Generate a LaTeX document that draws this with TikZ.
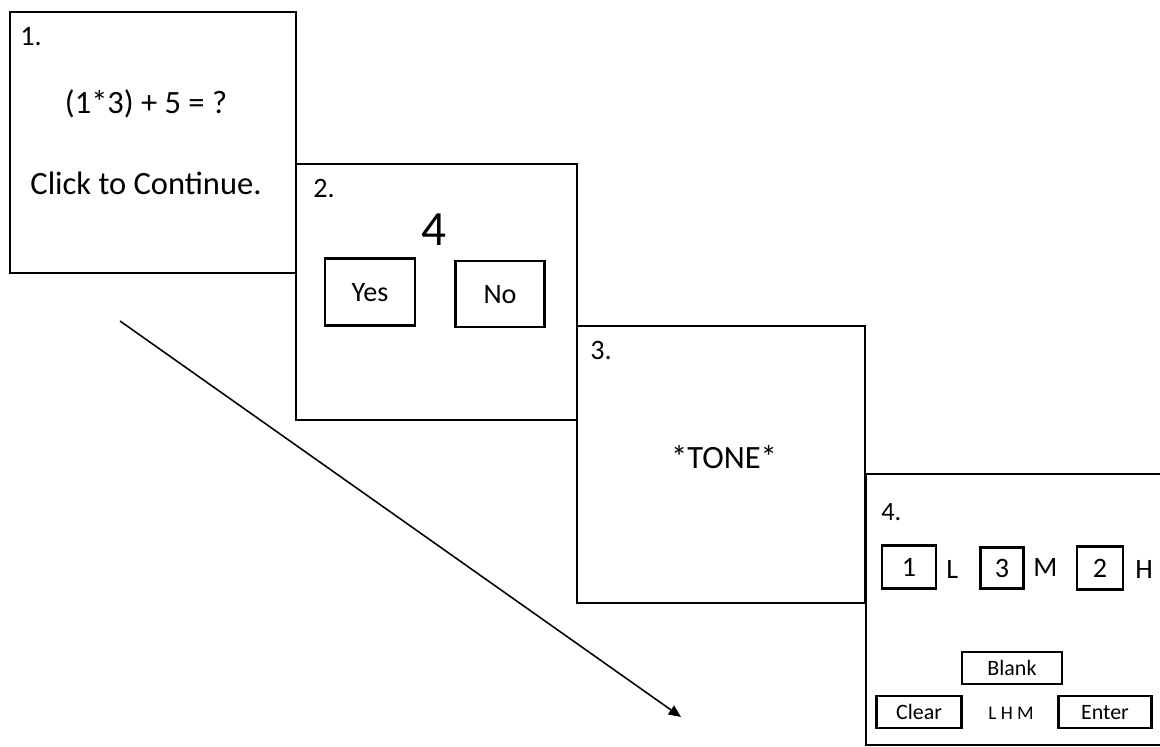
\documentclass[tikz,border=0pt]{standalone}
\usepackage{fontspec}
\setmainfont{Carlito}
\usetikzlibrary{arrows.meta, positioning, fit}

\begin{document}
\begin{tikzpicture}[
        x=0.02cm, y=-0.02cm,
        screen/.style={rectangle, draw, line width=1.6pt, fill=white, inner sep=0pt},
        button/.style={rectangle, draw, line width=1.4pt, inner sep=0pt, text depth=0pt, font=\fontsize{16}{18}\selectfont},
        keypad/.style={button, minimum height=0.64cm, font=\fontsize{12.5}{14}\selectfont},
        stepno/.style={anchor=base west, inner sep=0pt, font=\fontsize{16}{18}\selectfont},
        prompt/.style={anchor=base, font=\fontsize{18.5}{22}\selectfont},
        timeline/.style={-{Triangle[length=7pt, width=6pt]}, line width=0.9pt}
    ]
    \useasboundingbox (0,0) rectangle (1160,747);
    \clip (0,0) rectangle (1160,747);

    % --- Screens ---
    \node[screen, fit={(10,12) (296,273)}] (scr1) {};
    \node[screen, fit={(296,164) (577,420)}] (scr2) {};
    \node[screen, fit={(577,326) (865,603)}] (scr3) {};
    \node[screen, fit={(866,474) (1180,745)}] (scr4) {};

    % --- 1: equation ---
    \node[stepno] (n1) at (20,45) {1.};
    \node[prompt] (eq) at (146,113) {(1*3) + 5 = ?};
    \node[prompt] (cont) at (146,194) {Click to Continue.};

    % --- 2: answer check ---
    \node[stepno] (n2) at (313,197) {2.};
    \node[anchor=base, font=\fontsize{28}{32}\selectfont] (ans) at (434,245) {4};
    \node[button, minimum width=1.8cm, minimum height=1.34cm] (yes) at (370,292) {Yes};
    \node[button, minimum width=1.78cm, minimum height=1.32cm] (no) at (500,294) {No};

    % --- 3: tone ---
    \node[stepno] (n3) at (590,359) {3.};
    \node[prompt] (tone) at (724,468) {*TONE*};

    % --- 4: recall ---
    \node[stepno, font=\fontsize{15}{18}\selectfont] (n4) at (881,520) {4.};
    \node[button, minimum width=1.08cm, minimum height=0.86cm] (low) at (909,567) {1};
    \node[button, minimum width=0.86cm, minimum height=0.82cm] (mid) at (1002,568) {3};
    \node[button, minimum width=0.92cm, minimum height=0.86cm] (high) at (1100,568) {2};
    \node[stepno] (lowl) at (946,578) {L};
    \node[stepno] (midl) at (1033,576) {M};
    \node[stepno] (highl) at (1135,578) {H};

    \node[keypad, minimum width=2.0cm] (blank) at (1012,668) {Blank};
    \node[keypad, minimum width=1.7cm] (clear) at (919,712) {Clear};
    \node[keypad, minimum width=1.86cm] (enter) at (1105,712) {Enter};
    \node[font=\fontsize{11}{13}\selectfont] (order) at (1011,713) {L H M};

    % --- time ---
    \coordinate (tstart) at (120,321);
    \coordinate (tend) at (681,717);
    \draw[timeline] (tstart) -- (tend);

\end{tikzpicture}
\end{document}
